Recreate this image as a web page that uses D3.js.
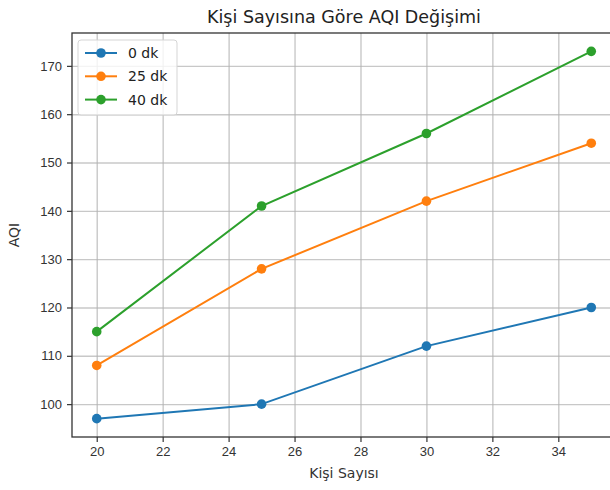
<!DOCTYPE html>
<html>
<head>
<meta charset="utf-8">
<script src="https://cdn.jsdelivr.net/npm/d3@7"></script>
<style>
body { margin: 0; background: #fff; }
svg { font-family: "DejaVu Sans", sans-serif; }
.grid line { stroke: #b0b0b0; stroke-opacity: 0.7; stroke-width: 1.4; }
.grid path { display: none; }
.axis text { font-size: 13px; fill: #333; }
.axis line, .axis path { stroke: #333; stroke-width: 1.2; }
</style>
</head>
<body>
<div class="chart"></div>
<script>
// Data ---------------------------------------------------------------------
const people = [20, 25, 30, 35];
const aqi0 = [97, 100, 112, 120];
const aqi25 = [108, 128, 142, 154];
const aqi40 = [115, 141, 156, 173];
const seriesNames = ["0 dk", "25 dk", "40 dk"];
const colors = ["#1f77b4", "#ff7f0e", "#2ca02c"];
const xTicks = [20, 22, 24, 26, 28, 30, 32, 34];
const yTicks = [100, 110, 120, 130, 140, 150, 160, 170];

const series = [aqi0, aqi25, aqi40].map((vals, i) => ({
  name: seriesNames[i],
  color: colors[i],
  values: vals.map((v, j) => ({ x: people[j], y: v }))
}));

// SVG Dimensions ---------------------------------------------------------------------
const width = 610;
const height = 490;
const margin = { top: 33, right: -6, bottom: 53, left: 72 };

const svg = d3.select(".chart")
  .append("svg")
  .attr("width", width)
  .attr("height", height);

// Scales (matplotlib-like 5% padding) ---------------------------------------------------------------------
const xPad = 0.05 * (d3.max(people) - d3.min(people));
const allY = [].concat(aqi0, aqi25, aqi40);
const yPad = 0.05 * (d3.max(allY) - d3.min(allY));

const xScale = d3.scaleLinear()
  .domain([d3.min(people) - xPad, d3.max(people) + xPad])
  .range([margin.left, width - margin.right]);

const yScale = d3.scaleLinear()
  .domain([d3.min(allY) - yPad, d3.max(allY) + yPad])
  .range([height - margin.bottom, margin.top]);

// Grids ---------------------------------------------------------------------
svg.append("g")
  .attr("class", "grid")
  .attr("transform", `translate(0, ${height - margin.bottom})`)
  .call(d3.axisBottom(xScale).tickValues(xTicks).tickSize(-(height - margin.bottom - margin.top)).tickFormat(""));

svg.append("g")
  .attr("class", "grid")
  .attr("transform", `translate(${margin.left},0)`)
  .call(d3.axisLeft(yScale).tickValues(yTicks).tickSize(-(width - margin.right - margin.left)).tickFormat(""));

// Lines and markers ---------------------------------------------------------------------
const line = d3.line()
  .x(d => xScale(d.x))
  .y(d => yScale(d.y));

series.forEach(s => {
  svg.append("path")
    .datum(s.values)
    .attr("fill", "none")
    .attr("stroke", s.color)
    .attr("stroke-width", 2)
    .attr("d", line);

  svg.selectAll(null)
    .data(s.values)
    .enter()
    .append("circle")
    .attr("cx", d => xScale(d.x))
    .attr("cy", d => yScale(d.y))
    .attr("r", 4.8)
    .attr("fill", s.color);
});

// Spines ---------------------------------------------------------------------
svg.append("rect")
  .attr("x", margin.left)
  .attr("y", margin.top)
  .attr("width", width - margin.right - margin.left)
  .attr("height", height - margin.bottom - margin.top)
  .attr("fill", "none")
  .attr("stroke", "#333")
  .attr("stroke-width", 1.3);

// Axes ---------------------------------------------------------------------
svg.append("g")
  .attr("class", "axis")
  .attr("transform", `translate(0, ${height - margin.bottom})`)
  .call(d3.axisBottom(xScale).tickValues(xTicks).tickSize(5).tickPadding(5))
  .call(g => g.select(".domain").remove());

svg.append("g")
  .attr("class", "axis")
  .attr("transform", `translate(${margin.left},0)`)
  .call(d3.axisLeft(yScale).tickValues(yTicks).tickSize(5).tickPadding(5))
  .call(g => g.select(".domain").remove());

// Labels ---------------------------------------------------------------------
svg.append("text")
  .attr("x", 344)
  .attr("y", 23)
  .attr("text-anchor", "middle")
  .attr("font-size", 17.5)
  .attr("fill", "#222")
  .text("Kişi Sayısına Göre AQI Değişimi");

svg.append("text")
  .attr("x", 344)
  .attr("y", 478)
  .attr("text-anchor", "middle")
  .attr("font-size", 14)
  .attr("fill", "#333")
  .text("Kişi Sayısı");

svg.append("text")
  .attr("transform", `translate(19, ${(margin.top + height - margin.bottom) / 2}) rotate(-90)`)
  .attr("text-anchor", "middle")
  .attr("font-size", 14)
  .attr("fill", "#333")
  .text("AQI");

// Legend ---------------------------------------------------------------------
const legend = svg.append("g").attr("transform", "translate(78, 40)");
legend.append("rect")
  .attr("width", 99)
  .attr("height", 75)
  .attr("rx", 3)
  .attr("fill", "#fff")
  .attr("fill-opacity", 0.8)
  .attr("stroke", "#d5d5d5");

series.forEach((s, i) => {
  const g = legend.append("g").attr("transform", `translate(0, ${13 + i * 23.3})`);
  g.append("line")
    .attr("x1", 7).attr("x2", 39)
    .attr("stroke", s.color)
    .attr("stroke-width", 2);
  g.append("circle")
    .attr("cx", 23)
    .attr("r", 4.8)
    .attr("fill", s.color);
  g.append("text")
    .attr("x", 50)
    .attr("dy", "0.35em")
    .attr("font-size", 14)
    .attr("fill", "#222")
    .text(s.name);
});
</script>
</body>
</html>
